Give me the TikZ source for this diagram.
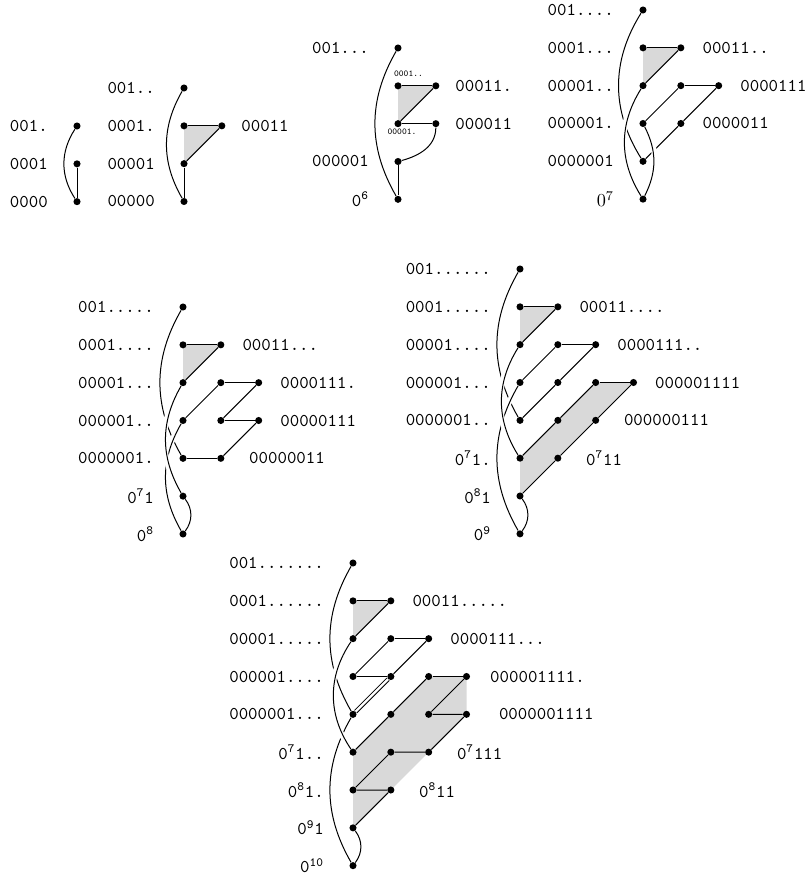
\documentclass[tikz,border=0pt]{standalone}
\usepackage{tikz}
\usetikzlibrary{positioning,backgrounds}
\tikzset{
  dot/.style={circle, fill=black, inner sep=1.5pt},
  lab/.style={font=\fontsize{10.8}{12}\selectfont\ttfamily, inner sep=0pt},
  slab/.style={font=\fontsize{5.4}{6}\selectfont\ttfamily, inner sep=0pt},
  link/.style={draw, line width=0.6pt},
  over/.style={preaction={draw=white, line width=3.4pt, shorten <=5pt, shorten >=5pt}},
  shade/.style={fill=black!15},
}

\begin{document}
\begin{tikzpicture}[x=22.7pt, y=22.7pt]
  \useasboundingbox (0,0) rectangle (483.6pt,-526.2pt);

  % length 4
  \begin{scope}[shift={(46.2pt,-75.6pt)}]
    \foreach \r in {0,1,2} \node[dot] (a\r0) at (0,-\r) {};
    \node[lab, left=15pt of a00] (ta00) {001.};
    \node[lab, left=15pt of a10] (ta10) {0001};
    \node[lab, left=15pt of a20] (ta20) {0000};
    \draw[link] (a10) -- (a20);
    \draw[link] (a00) to[bend right=33] (a20);
  \end{scope}

  % length 5
  \begin{scope}[shift={(110.4pt,-52.8pt)}]
    \foreach \r/\c in {0/0,1/0,1/1,2/0,3/0} \node[dot] (b\r\c) at (\c,-\r) {};
    \begin{scope}[on background layer]
      \fill[shade] (b10.center) -- (b11.center) -- (b20.center) -- cycle;
    \end{scope}
    \node[lab, left=15pt of b00] (tb00) {001..};
    \node[lab, left=15pt of b10] (tb10) {0001.};
    \node[lab, left=15pt of b20] (tb20) {00001};
    \node[lab, left=15pt of b30] (tb30) {00000};
    \node[lab, right=9.2pt of b11] (tb11) {00011};
    \draw[link] (b10) -- (b11);
    \draw[link] (b11) -- (b20);
    \draw[link] (b20) -- (b30);
    \draw[link] (b00) to[bend right=30] (b30);
  \end{scope}

  % length 6
  \begin{scope}[shift={(238.8pt,-28.8pt)}]
    \foreach \r/\c in {0/0,1/0,1/1,2/0,2/1,3/0,4/0} \node[dot] (c\r\c) at (\c,-\r) {};
    \begin{scope}[on background layer]
      \fill[shade] (c10.center) -- (c11.center) -- (c20.center) -- cycle;
    \end{scope}
    \node[lab, left=15pt of c00] (tc00) {001...};
    \node[slab, above=3.2pt of c10, xshift=6.3pt] (tc10) {0001..};
    \node[slab, below=0.6pt of c20, xshift=2.4pt] (tc20) {00001.};
    \node[lab, left=15pt of c30] (tc30) {000001};
    \node[lab, left=15pt of c40] (tc40) {0\textsuperscript{6}};
    \node[lab, right=9.2pt of c11] (tc11) {00011.};
    \node[lab, right=9.2pt of c21] (tc21) {000011};
    \draw[link] (c10) -- (c11);
    \draw[link] (c11) -- (c20);
    \draw[link] (c20) -- (c21);
    \draw[link] (c21) to[out=-90, in=15] (c30);
    \draw[link] (c30) -- (c40);
    \draw[link] (c00) to[bend right=30] (c40);
  \end{scope}

  % length 7
  \begin{scope}[shift={(385.8pt,-6pt)}]
    \foreach \r/\c in {0/0,1/0,1/1,2/0,2/1,2/2,3/0,3/1,4/0,5/0} \node[dot] (d\r\c) at (\c,-\r) {};
    \begin{scope}[on background layer]
      \fill[shade] (d10.center) -- (d11.center) -- (d20.center) -- cycle;
    \end{scope}
    \node[lab, left=15pt of d00] (td00) {001....};
    \node[lab, left=15pt of d10] (td10) {0001...};
    \node[lab, left=15pt of d20] (td20) {00001..};
    \node[lab, left=15pt of d30] (td30) {000001.};
    \node[lab, left=15pt of d40] (td40) {0000001};
    \node[lab, left=15pt of d50] (td50) {$0^7$};
    \node[lab, right=10.5pt of d11] (td11) {00011..};
    \node[lab, right=10.5pt of d22] (td22) {0000111};
    \node[lab, right=10.5pt of d31] (td31) {0000011};
    \draw[link] (d10) -- (d11);
    \draw[link] (d11) -- (d20);
    \draw[link] (d21) -- (d22);
    \draw[link] (d21) -- (d30);
    \draw[link] (d22) -- (d31);
    \draw[link] (d31) -- (d40);
    \draw[link] (d00) to[bend right=32] (d40);
    \draw[link, over] (d20) to[bend right=32] (d50);
    \draw[link, over] (d30) to[bend left=27] (d50);
  \end{scope}

  % length 8
  \begin{scope}[shift={(109.8pt,-184.2pt)}]
    \foreach \r/\c in {0/0,1/0,1/1,2/0,2/1,2/2,3/0,3/1,3/2,4/0,4/1,5/0,6/0} \node[dot] (e\r\c) at (\c,-\r) {};
    \begin{scope}[on background layer]
      \fill[shade] (e10.center) -- (e11.center) -- (e20.center) -- cycle;
    \end{scope}
    \node[lab, left=15pt of e00] (te00) {001.....};
    \node[lab, left=15pt of e10] (te10) {0001....};
    \node[lab, left=15pt of e20] (te20) {00001...};
    \node[lab, left=15pt of e30] (te30) {000001..};
    \node[lab, left=15pt of e40] (te40) {0000001.};
    \node[lab, left=15pt of e50] (te50) {0\textsuperscript{7}1};
    \node[lab, left=15pt of e60] (te60) {0\textsuperscript{8}};
    \node[lab, right=10.5pt of e11] (te11) {00011...};
    \node[lab, right=10.5pt of e22] (te22) {0000111.};
    \node[lab, right=10.5pt of e32] (te32) {00000111};
    \node[lab, right=14.5pt of e41] (te41) {00000011};
    \draw[link] (e10) -- (e11);
    \draw[link] (e11) -- (e20);
    \draw[link] (e21) -- (e22);
    \draw[link] (e21) -- (e30);
    \draw[link] (e22) -- (e31);
    \draw[link] (e31) -- (e32);
    \draw[link] (e32) -- (e41);
    \draw[link] (e40) -- (e41);
    \draw[link] (e00) to[bend right=30] (e40);
    \draw[link, over] (e30) to[bend right=30] (e60);
    \draw[link, over] (e20) to[bend right=30] (e50);
    \draw[link] (e50) to[bend left=37] (e60);
  \end{scope}

  % length 9
  \begin{scope}[shift={(312pt,-161.4pt)}]
    \foreach \r/\c in {0/0,1/0,1/1,2/0,2/1,2/2,3/0,3/1,3/2,3/3,4/0,4/1,4/2,5/0,5/1,6/0,7/0} \node[dot] (f\r\c) at (\c,-\r) {};
    \begin{scope}[on background layer]
      \fill[shade] (f10.center) -- (f11.center) -- (f20.center) -- cycle;
      \fill[shade] (f32.center) -- (f33.center) -- (f60.center) -- (f50.center) -- cycle;
    \end{scope}
    \node[lab, left=15pt of f00] (tf00) {001......};
    \node[lab, left=15pt of f10] (tf10) {0001.....};
    \node[lab, left=15pt of f20] (tf20) {00001....};
    \node[lab, left=15pt of f30] (tf30) {000001...};
    \node[lab, left=15pt of f40] (tf40) {0000001..};
    \node[lab, left=15pt of f50] (tf50) {0\textsuperscript{7}1.};
    \node[lab, left=15pt of f60] (tf60) {0\textsuperscript{8}1};
    \node[lab, left=15pt of f70] (tf70) {0\textsuperscript{9}};
    \node[lab, right=10.5pt of f11] (tf11) {00011....};
    \node[lab, right=10.5pt of f22] (tf22) {0000111..};
    \node[lab, right=10.5pt of f33] (tf33) {000001111};
    \node[lab, right=14.5pt of f42] (tf42) {000000111};
    \node[lab, right=14.5pt of f51] (tf51) {0\textsuperscript{7}11};
    \draw[link] (f10) -- (f11);
    \draw[link] (f11) -- (f20);
    \draw[link] (f21) -- (f22);
    \draw[link] (f21) -- (f30);
    \draw[link] (f22) -- (f31);
    \draw[link] (f31) -- (f40);
    \draw[link] (f32) -- (f33);
    \draw[link] (f32) -- (f41) -- (f50);
    \draw[link] (f33) -- (f42) -- (f51) -- (f60);
    \draw[link] (f00) to[bend right=30] (f40);
    \draw[link, over] (f30) to[bend right=30] (f70);
    \draw[link, over] (f20) to[bend right=32] (f50);
    \draw[link] (f60) to[bend left=37] (f70);
  \end{scope}

  % length 10
  \begin{scope}[shift={(211.8pt,-337.8pt)}]
    \foreach \r/\c in {0/0,1/0,1/1,2/0,2/1,2/2,3/0,3/1,3/2,3/3,4/0,4/1,4/2,4/3,5/0,5/1,5/2,6/0,6/1,7/0,8/0} \node[dot] (g\r\c) at (\c,-\r) {};
    \begin{scope}[on background layer]
      \fill[shade] (g10.center) -- (g11.center) -- (g20.center) -- cycle;
      \fill[shade] (g32.center) -- (g33.center) -- (g43.center) -- (g70.center) -- (g50.center) -- cycle;
    \end{scope}
    \node[lab, left=15pt of g00] (tg00) {001.......};
    \node[lab, left=15pt of g10] (tg10) {0001......};
    \node[lab, left=15pt of g20] (tg20) {00001.....};
    \node[lab, left=15pt of g30] (tg30) {000001....};
    \node[lab, left=15pt of g40] (tg40) {0000001...};
    \node[lab, left=15pt of g50] (tg50) {0\textsuperscript{7}1..};
    \node[lab, left=15pt of g60] (tg60) {0\textsuperscript{8}1.};
    \node[lab, left=15pt of g70] (tg70) {0\textsuperscript{9}1};
    \node[lab, left=15pt of g80] (tg80) {0\textsuperscript{10}};
    \node[lab, right=10.5pt of g11] (tg11) {00011.....};
    \node[lab, right=10.5pt of g22] (tg22) {0000111...};
    \node[lab, right=11.7pt of g33] (tg33) {000001111.};
    \node[lab, right=17pt of g43] (tg43) {0000001111};
    \node[lab, right=14.5pt of g52] (tg52) {0\textsuperscript{7}111};
    \node[lab, right=14.5pt of g61] (tg61) {0\textsuperscript{8}11};
    \draw[link] (g10) -- (g11);
    \draw[link] (g11) -- (g20);
    \draw[link] (g21) -- (g22);
    \draw[link] (g21) -- (g30);
    \draw[link] (g22) -- (g31);
    \draw[link] (g30) -- (g31);
    \draw[link, double, double distance=1.4pt] (g31) -- (g40);
    \draw[link] (g32) -- (g33);
    \draw[link] (g32) -- (g41) -- (g50);
    \draw[link] (g33) -- (g42) -- (g43);
    \draw[link] (g43) -- (g52) -- (g51) -- (g60) -- (g61) -- (g70);
    \draw[link] (g00) to[bend right=30] (g40);
    \draw[link, over] (g40) to[bend right=30] (g80);
    \draw[link, over] (g20) to[bend right=34] (g50);
    \draw[link] (g70) to[bend left=37] (g80);
  \end{scope}
\end{tikzpicture}
\end{document}
